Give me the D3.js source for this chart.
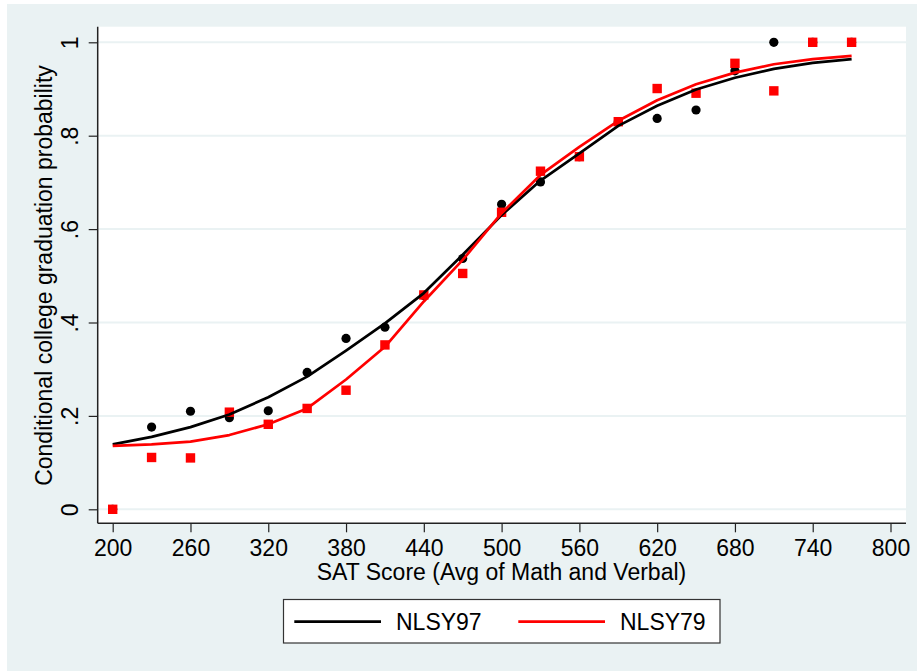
<!DOCTYPE html>
<html>
<head>
<meta charset="utf-8">
<script src="https://cdn.jsdelivr.net/npm/d3@7"></script>
<style>
  body { margin: 0; background: #ffffff; }
  svg { display: block; font-family: "Liberation Sans", Arial, sans-serif; }
</style>
</head>
<body>
<div id="graf"></div>
<script>
// Datos
const satScores = [200, 230, 260, 290, 320, 350, 380, 410, 440, 470, 500, 530, 560, 590, 620, 650, 680, 710, 740, 770]
const nlsy97Obs = [0, 0.176, 0.21, 0.196, 0.211, 0.293, 0.366, 0.39, 0.458, 0.537, 0.653, 0.701, 0.755, 0.83, 0.837, 0.855, 0.939, 1, 1, 1]
const nlsy79Obs = [0, 0.111, 0.11, 0.208, 0.182, 0.216, 0.255, 0.352, 0.459, 0.505, 0.636, 0.724, 0.755, 0.83, 0.901, 0.891, 0.955, 0.896, 1, 1]
const nlsy97Fit = [0.139, 0.155, 0.176, 0.203, 0.24, 0.284, 0.34, 0.398, 0.463, 0.545, 0.63, 0.704, 0.762, 0.821, 0.864, 0.899, 0.924, 0.943, 0.956, 0.964]
const nlsy79Fit = [0.136, 0.139, 0.145, 0.159, 0.182, 0.216, 0.278, 0.348, 0.445, 0.534, 0.634, 0.716, 0.776, 0.832, 0.876, 0.91, 0.935, 0.953, 0.964, 0.971]
const xTicks = [200, 260, 320, 380, 440, 500, 560, 620, 680, 740, 800]
const yTicks = [0, 0.2, 0.4, 0.6, 0.8, 1]
const seriesNames = ["NLSY97", "NLSY79"]

const ancho = 917
const alto = 671
const bg = "#eaf2f3"
const fs = 23

const svg = d3.select("#graf")
  .append("svg")
  .attr("width", ancho)
  .attr("height", alto)

// Fondo
svg.append("rect")
  .attr("x", 7).attr("y", 4)
  .attr("width", ancho - 7).attr("height", alto - 4)
  .attr("fill", bg)

// Region del grafico
const plot = { left: 97.7, right: 906, top: 26.7, bottom: 523.3 }
svg.append("rect")
  .attr("x", plot.left).attr("y", plot.top)
  .attr("width", plot.right - plot.left).attr("height", plot.bottom - plot.top)
  .attr("fill", "#ffffff")

// Escaladores
const x = d3.scaleLinear().domain([200, 800]).range([112.7, 890.5])
const y = d3.scaleLinear().domain([0, 1]).range([509.3, 42.3])

// Grilla
svg.append("g")
  .selectAll("line")
  .data(yTicks)
  .join("line")
  .attr("x1", plot.left).attr("x2", plot.right)
  .attr("y1", (d) => y(d)).attr("y2", (d) => y(d))
  .attr("stroke", bg)
  .attr("stroke-width", 2)

// Ejes
const xAxis = svg.append("g")
  .attr("transform", `translate(0, ${plot.bottom})`)
  .call(d3.axisBottom(x).tickValues(xTicks).tickSize(9).tickFormat(d3.format("d")))
xAxis.select(".domain").remove()
xAxis.selectAll(".tick line").attr("stroke", "#222").attr("stroke-width", 1.2)
xAxis.selectAll(".tick text")
  .attr("y", 556 - plot.bottom).attr("dy", 0)
  .attr("font-size", fs).attr("font-family", null).attr("fill", "#000")

const fmtY = (d) => (d === 0 ? "0" : d === 1 ? "1" : d3.format(".1f")(d).replace("0.", "."))
const yAxis = svg.append("g")
  .attr("transform", `translate(${plot.left}, 0)`)
  .call(d3.axisLeft(y).tickValues(yTicks).tickSize(9).tickFormat(fmtY))
yAxis.select(".domain").remove()
yAxis.selectAll(".tick line").attr("stroke", "#222").attr("stroke-width", 1.2)
yAxis.selectAll(".tick text")
  .attr("transform", "rotate(-90)")
  .attr("x", 0).attr("y", 78 - plot.left).attr("dy", 0)
  .attr("text-anchor", "middle")
  .attr("font-size", fs).attr("font-family", null).attr("fill", "#000")

svg.append("line")
  .attr("x1", plot.left).attr("x2", plot.left)
  .attr("y1", plot.top).attr("y2", plot.bottom)
  .attr("stroke", "#222").attr("stroke-width", 1.5)
svg.append("line")
  .attr("x1", plot.left).attr("x2", plot.right)
  .attr("y1", plot.bottom).attr("y2", plot.bottom)
  .attr("stroke", "#222").attr("stroke-width", 1.5)

// Titulos
svg.append("text")
  .attr("x", 501.5).attr("y", 580)
  .attr("text-anchor", "middle")
  .attr("font-size", fs)
  .text("SAT Score (Avg of Math and Verbal)")

svg.append("text")
  .attr("transform", "translate(52, 275.5) rotate(-90)")
  .attr("text-anchor", "middle")
  .attr("font-size", fs)
  .text("Conditional college graduation probability")

// Puntos
svg.append("g")
  .selectAll("circle")
  .data(satScores.map((s, i) => [s, nlsy97Obs[i]]))
  .join("circle")
  .attr("cx", (d) => x(d[0]))
  .attr("cy", (d) => y(d[1]))
  .attr("r", 4.6)
  .attr("fill", "#000")

const lado = 9.4
svg.append("g")
  .selectAll("rect")
  .data(satScores.map((s, i) => [s, nlsy79Obs[i]]))
  .join("rect")
  .attr("x", (d) => x(d[0]) - lado / 2)
  .attr("y", (d) => y(d[1]) - lado / 2)
  .attr("width", lado)
  .attr("height", lado)
  .attr("fill", "#ff0000")

// Lineas ajustadas
const linea = d3.line()
  .x((d) => x(d[0]))
  .y((d) => y(d[1]))

svg.append("path")
  .datum(satScores.map((s, i) => [s, nlsy97Fit[i]]))
  .attr("d", linea)
  .attr("fill", "none")
  .attr("stroke", "#000")
  .attr("stroke-width", 2.7)
  .attr("stroke-linejoin", "round")

svg.append("path")
  .datum(satScores.map((s, i) => [s, nlsy79Fit[i]]))
  .attr("d", linea)
  .attr("fill", "none")
  .attr("stroke", "#ff0000")
  .attr("stroke-width", 2.7)
  .attr("stroke-linejoin", "round")

// Leyenda
const leyenda = svg.append("g")
leyenda.append("rect")
  .attr("x", 283.5).attr("y", 599.5)
  .attr("width", 436.5).attr("height", 43.5)
  .attr("fill", "#fff")
  .attr("stroke", "#333")
  .attr("stroke-width", 1.2)

const items = [
  { name: seriesNames[0], color: "#000", x0: 294.3, x1: 381, tx: 396 },
  { name: seriesNames[1], color: "#ff0000", x0: 518.3, x1: 605, tx: 620 }
]
items.forEach((it) => {
  leyenda.append("line")
    .attr("x1", it.x0).attr("x2", it.x1)
    .attr("y1", 621.7).attr("y2", 621.7)
    .attr("stroke", it.color)
    .attr("stroke-width", 2.7)
  leyenda.append("text")
    .attr("x", it.tx).attr("y", 630)
    .attr("font-size", fs)
    .text(it.name)
})
</script>
</body>
</html>
